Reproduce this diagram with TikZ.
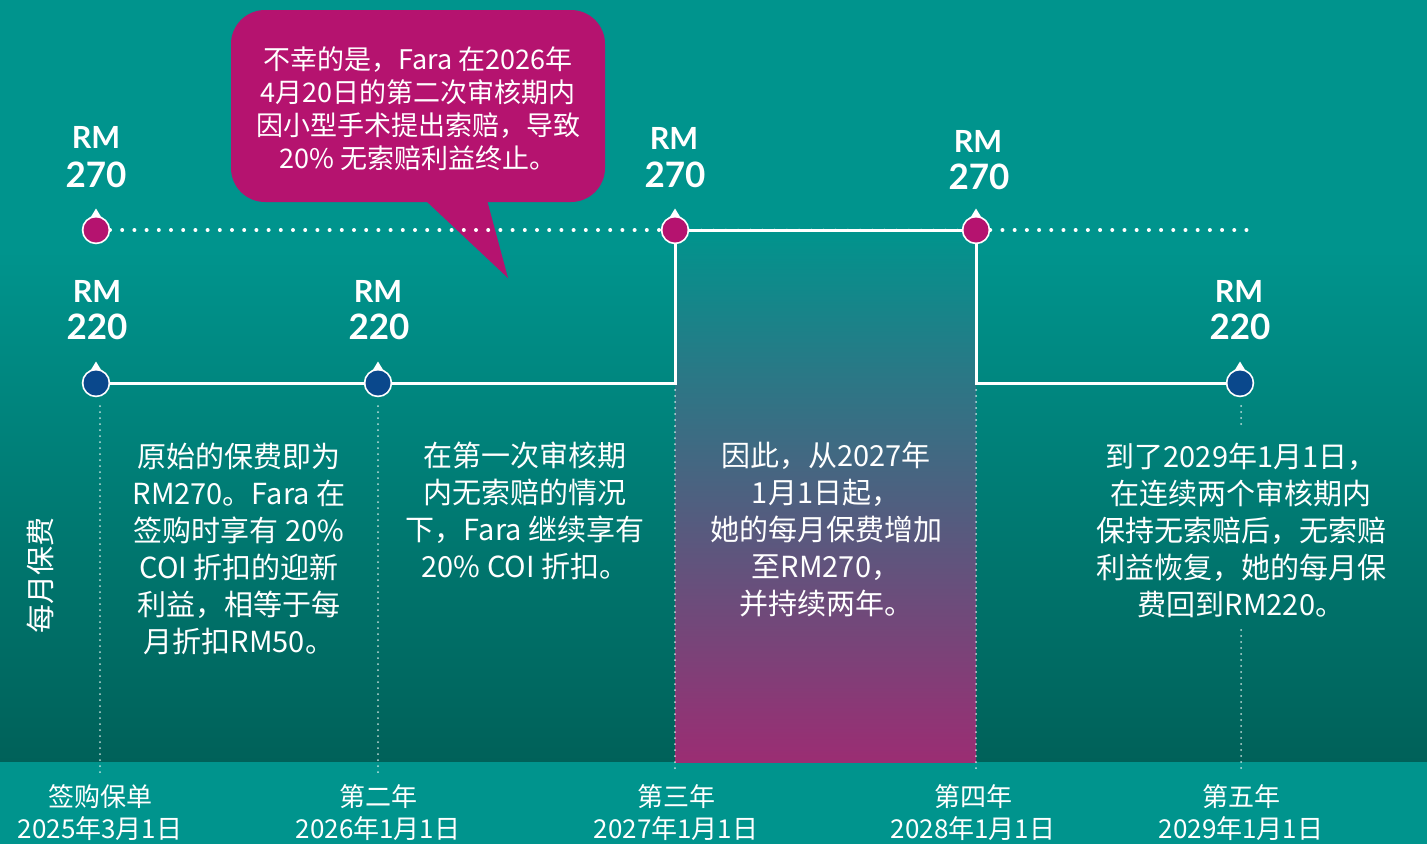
\documentclass[tikz,border=0pt]{standalone}
\usepackage{fontspec}
\setmainfont{Noto Sans CJK SC}
\newfontfamily\labfont{Lato}
\usetikzlibrary{calc}
\definecolor{tealA}{RGB}{0,148,141}
\definecolor{tealB}{RGB}{0,97,89}
\definecolor{magA}{RGB}{181,19,111}
\definecolor{navyA}{RGB}{10,72,140}
\definecolor{colbot}{RGB}{155,45,115}
\definecolor{colmid}{RGB}{45,110,132}
\tikzset{
  mk/.style={circle, draw=white, line width=2.5pt, minimum size=26pt, inner sep=0pt},
  mkhi/.style={mk, fill=magA},
  mklo/.style={mk, fill=navyA},
  solidln/.style={draw=white, line width=3pt},
  dotln/.style={draw=white, line width=4pt, line cap=round, dash pattern=on 0pt off 12.2pt},
  vdot/.style={draw=white, draw opacity=0.75, line width=2pt, line cap=round, dash pattern=on 0pt off 6pt},
  rmlab/.style={text=white, anchor=base, font=\labfont\bfseries\fontsize{30.5}{32}\selectfont, inner sep=0pt},
  numlab/.style={text=white, anchor=base, font=\labfont\bfseries\fontsize{35}{40}\selectfont, inner sep=0pt},
  body/.style={text=white, align=center, font=\fontsize{29}{37}\selectfont, inner sep=0pt},
  datelab/.style={text=white, align=center, font=\fontsize{26}{32}\selectfont, inner sep=0pt},
}
\newcommand{\mytip}[1]{\fill[white] ($(#1.center)+(-7,-10)$) -- ($(#1.center)+(0,-21.5)$) -- ($(#1.center)+(7,-10)$) -- cycle;}
\begin{document}
\begin{tikzpicture}[x=1pt,y=-1pt]
\useasboundingbox (0,0) rectangle (1427,844);
% background
\fill[tealA] (0,0) rectangle (1427,252);
\shade[top color=tealA, bottom color=tealB] (0,250) rectangle (1427,762);
\fill[tealA] (0,762) rectangle (1427,844);
% highlighted column
\shade[top color=tealA, middle color=colmid, bottom color=colbot] (675,230) rectangle (976,762);

% callout
\fill[magA, rounded corners=34pt] (231,10) rectangle (605,202);
\fill[magA] (425,200) -- (487,200) -- (508,278) -- cycle;
\node[body, font=\fontsize{27}{33}\selectfont] (call) at (418,109) {不幸的是，Fara 在2026年\\4月20日的第二次审核期内\\因小型手术提出索赔，导致\\20\% 无索赔利益终止。};

% markers
\node[mkhi] (m1) at (96,230) {};
\node[mkhi] (m2) at (675,230) {};
\node[mkhi] (m3) at (976,230) {};
\node[mklo] (b1) at (96,383) {};
\node[mklo] (b2) at (378,383) {};
\node[mklo] (b3) at (1240,383) {};
\coordinate (topend) at (1255,230);

% connectors
\draw[dotln] ([xshift=14pt]m1.center) -- (m2.west);
\draw[dotln] (m3.east) -- (topend);
\draw[solidln] (m2) -- (m3);
\draw[solidln] (b1) -- (b2);
\draw[solidln] (b2) -- (b2 -| m2) -- (m2);
\draw[solidln] (m3) |- (b3);
\draw[draw=white, line width=3pt, line cap=round, dash pattern=on 0pt off 12.2pt, draw opacity=0.6] (m2.east) -- (m3.west);

% tips
\mytip{m1}\mytip{m2}\mytip{m3}\mytip{b1}\mytip{b2}\mytip{b3}
\node[mkhi, draw=none, minimum size=25pt] at (m1) {};
\node[mkhi, draw=none, minimum size=25pt] at (m2) {};
\node[mkhi, draw=none, minimum size=25pt] at (m3) {};
\node[mklo, draw=none, minimum size=25pt] at (b1) {};
\node[mklo, draw=none, minimum size=25pt] at (b2) {};
\node[mklo, draw=none, minimum size=25pt] at (b3) {};

% vertical dotted guides
\coordinate (d1) at (100,773);
\coordinate (d2) at (378,773);
\coordinate (d3) at (675,773);
\coordinate (d4) at (976,773);
\coordinate (d5) at (1241,773);
\draw[vdot] (100,406) -- (d1);
\draw[vdot] (378,406) -- (d2);
\draw[vdot] (675,390) -- (d3);
\draw[vdot] (976,390) -- (d4);
\draw[vdot] (1241,406) -- (1241,428);
\draw[vdot] (1241,630) -- (d5);

% price labels
\node[rmlab] (r1) at (96,148) {RM};
\node[numlab] (n1) at (96,187) {270};
\node[rmlab] (r2) at (674,149) {RM};
\node[numlab] (n2) at (675,187) {270};
\node[rmlab] (r3) at (978,152) {RM};
\node[numlab] (n3) at (979,189) {270};
\node[rmlab] (r4) at (97,302) {RM};
\node[numlab] (n4) at (97,339) {220};
\node[rmlab] (r5) at (378,302) {RM};
\node[numlab] (n5) at (379,339) {220};
\node[rmlab] (r6) at (1239,302) {RM};
\node[numlab] (n6) at (1240,339) {220};

% body texts
\node[body] (t1) at (239,549) {原始的保费即为\\RM270。Fara 在\\签购时享有 20\%\\COI 折扣的迎新\\利益，相等于每\\月折扣RM50。};
\node[body] (t2) at (525,511) {在第一次审核期\\内无索赔的情况\\下，Fara 继续享有\\20\% COI 折扣。};
\node[body] (t3) at (826,530) {因此，从2027年\\1月1日起，\\她的每月保费增加\\至RM270，\\并持续两年。};
\node[body] (t4) at (1241,530) {到了2029年1月1日，\\在连续两个审核期内\\保持无索赔后，无索赔\\利益恢复，她的每月保\\费回到RM220。};

% axis label
\node[body, rotate=90] (ax) at (40,575) {每月保费};

% dates
\node[datelab] (y1) at (100,813) {签购保单\\2025年3月1日};
\node[datelab] (y2) at (378,813) {第二年\\2026年1月1日};
\node[datelab] (y3) at (676,813) {第三年\\2027年1月1日};
\node[datelab] (y4) at (973,813) {第四年\\2028年1月1日};
\node[datelab] (y5) at (1241,813) {第五年\\2029年1月1日};
\end{tikzpicture}
\end{document}
